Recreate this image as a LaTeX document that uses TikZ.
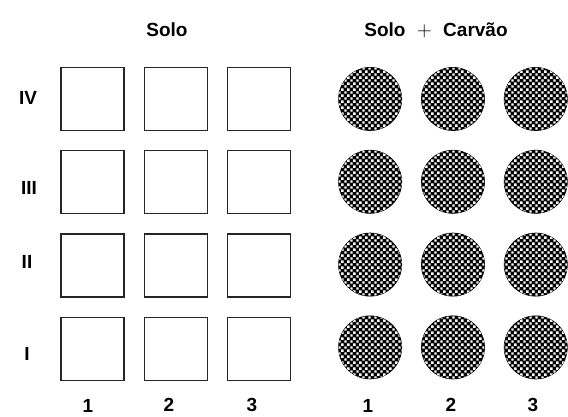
\documentclass[tikz,border=0pt]{standalone}
\usepackage{fontspec}
\setmainfont{Liberation Sans}
\usepackage{tikz}
\usetikzlibrary{positioning, patterns.meta}

\tikzdeclarepattern{name=charcoal, type=uncolored,
  bounding box={(0pt,0pt) and (6.4pt,6.4pt)}, tile size={(6.4pt,6.4pt)},
  code={\fill (0.3pt,0.3pt) rectangle (2.9pt,2.9pt);
        \fill (3.5pt,3.5pt) rectangle (6.1pt,6.1pt);}}

\begin{document}
\begin{tikzpicture}[x=1pt, y=-1pt, node distance=19pt,
    plot/.style={rectangle, draw=black!85, line width=1.3pt, minimum size=63pt, inner sep=0pt},
    charplot/.style={circle, draw=black, line width=0.8pt, fill=black, minimum size=63pt, inner sep=0pt,
      postaction={pattern=charcoal, pattern color=white}},
    lab/.style={font=\fontsize{19}{22}\selectfont\bfseries, inner sep=0pt}]

    \useasboundingbox (0,0) rectangle (568,417);

    % parcelas so com solo
    \node[plot] (s41) at (92.5,99) {};
    \node[plot, right=of s41] (s42) {};
    \node[plot, right=of s42] (s43) {};
    \node[plot, below=of s41] (s31) {};
    \node[plot, right=of s31] (s32) {};
    \node[plot, right=of s32] (s33) {};
    \node[plot, below=of s31] (s21) {};
    \node[plot, right=of s21] (s22) {};
    \node[plot, right=of s22] (s23) {};
    \node[plot, below=of s21] (s11) {};
    \node[plot, right=of s11] (s12) {};
    \node[plot, right=of s12] (s13) {};

    % parcelas com carvao
    \node[charplot, right=47pt of s43] (c41) {};
    \node[charplot, right=of c41] (c42) {};
    \node[charplot, right=of c42] (c43) {};
    \node[charplot, below=of c41] (c31) {};
    \node[charplot, right=of c31] (c32) {};
    \node[charplot, right=of c32] (c33) {};
    \node[charplot, below=of c31] (c21) {};
    \node[charplot, right=of c21] (c22) {};
    \node[charplot, right=of c22] (c23) {};
    \node[charplot, below=of c21] (c11) {};
    \node[charplot, right=of c11] (c12) {};
    \node[charplot, right=of c12] (c13) {};

    % titulos
    \node[lab] (solo) at (167,30) {Solo};
    \node[lab] (carvao) at (436,30) {Solo\hspace{0.6em}{\mdseries\fontsize{22}{22}\selectfont$+$}\hspace{0.6em}Carvão};

    % blocos
    \node[lab] (b4) at (28,98) {IV};
    \node[lab] (b3) at (29,188) {III};
    \node[lab] (b2) at (27,262) {II};
    \node[lab] (b1) at (27,354) {I};

    % tratamentos
    \node[lab] (t1) at (88,406) {1};
    \node[lab] (t2) at (169,405) {2};
    \node[lab] (t3) at (252,405) {3};
    \node[lab] (u1) at (368,406) {1};
    \node[lab] (u2) at (451,405) {2};
    \node[lab] (u3) at (533,405) {3};
\end{tikzpicture}
\end{document}
